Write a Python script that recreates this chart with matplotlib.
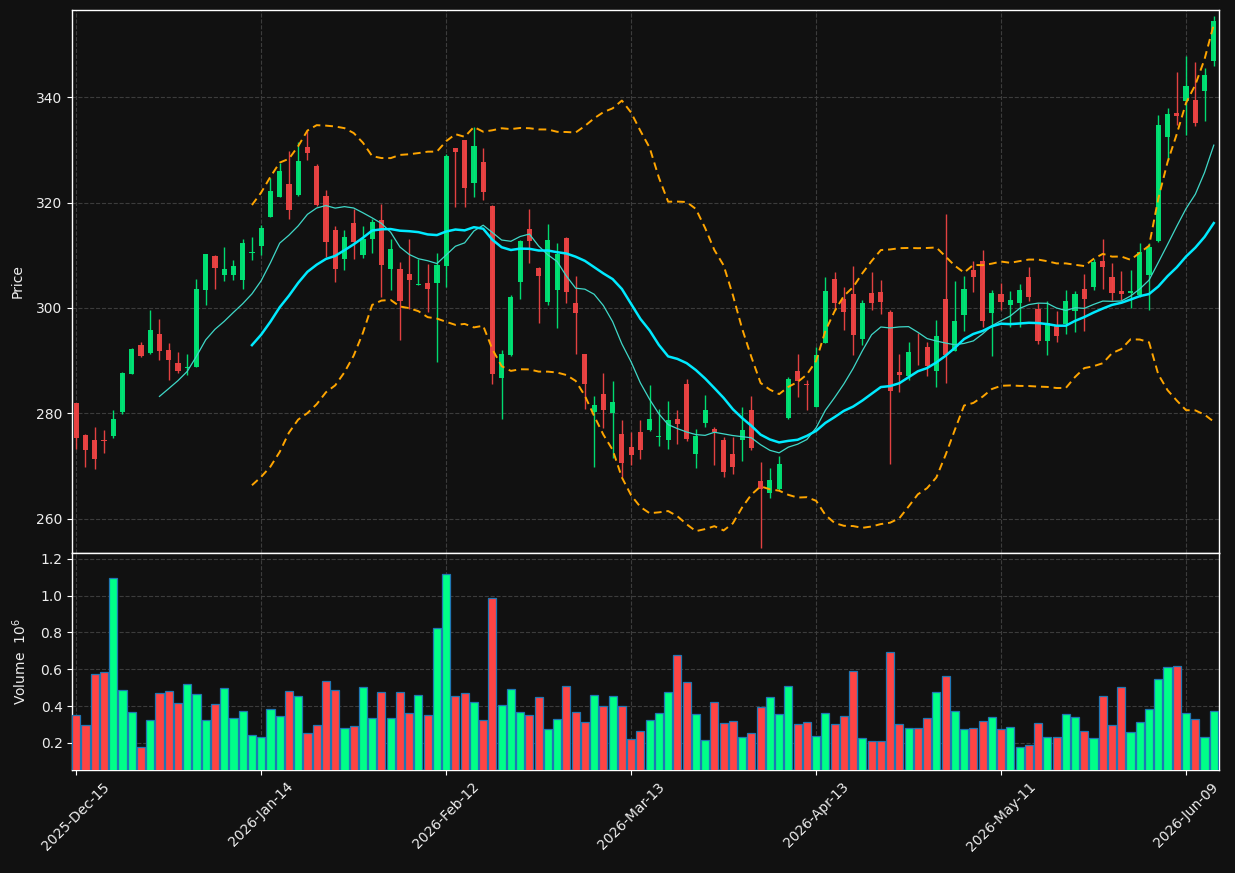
import numpy as np
import pandas as pd
import matplotlib
matplotlib.use('Agg')
import matplotlib.pyplot as plt

# ---------------- data ----------------
start_date = '2025-12-15'
holidays = ['2025-12-25', '2026-01-01', '2026-01-19', '2026-02-16', '2026-04-03', '2026-05-25']

opens = [281.9, 275.9, 274.9, 275.0, 275.7, 280.3, 287.5, 293.0, 291.5, 295.0,
         292.0, 289.5, 288.6, 288.8, 303.4, 309.9, 306.25, 306.25, 305.3, 310.5,
         311.8, 317.3, 321.1, 323.5, 321.4, 330.6, 327.0, 321.25, 314.8, 309.35,
         316.1, 310.1, 313.15, 316.8, 307.45, 307.4, 306.4, 304.35, 304.7, 304.7,
         308.0, 330.3, 331.9, 323.8, 327.7, 319.35, 286.75, 291.05, 305.0, 315.0,
         307.6, 301.2, 303.4, 313.3, 300.9, 291.2, 280.3, 283.65, 280.1, 276.05,
         273.55, 276.5, 276.8, 275.45, 274.9, 278.9, 285.55, 272.25, 278.2, 277.1,
         274.9, 272.25, 274.9, 280.6, 267.05, 264.9, 265.6, 279.15, 288.0, 285.45,
         281.2, 293.4, 305.6, 301.7, 302.6, 294.15, 302.8, 303.0, 299.2, 287.85,
         287.05, 292.65, 292.6, 288.0, 301.7, 291.9, 298.65, 307.2, 308.9, 299.1,
         302.65, 300.55, 300.9, 305.8, 299.8, 293.8, 296.5, 296.95, 299.35, 303.6,
         304.0, 308.85, 305.8, 303.15, 302.9, 302.5, 306.3, 312.65, 332.5, 337.0,
         339.35, 339.45, 341.15, 346.95]
highs = [282.0, 276.0, 277.4, 276.9, 280.6, 287.8, 292.4, 293.6, 299.6, 298.0,
         293.3, 291.7, 291.2, 305.6, 310.3, 310.0, 311.5, 309.2, 313.2, 313.4,
         315.8, 324.6, 327.5, 329.9, 331.6, 333.8, 327.3, 322.4, 315.6, 314.9,
         318.9, 315.6, 317.0, 319.7, 313.1, 308.8, 313.2, 309.4, 308.3, 310.5,
         329.2, 330.4, 332.0, 334.4, 330.3, 319.55, 292.1, 302.45, 312.9, 318.9,
         307.7, 315.9, 312.3, 313.4, 306.1, 291.3, 283.3, 287.6, 286.2, 278.8,
         276.5, 278.8, 285.3, 280.9, 282.3, 280.7, 286.6, 277.1, 283.4, 277.3,
         275.5, 275.4, 281.1, 283.3, 270.7, 269.7, 271.9, 286.9, 291.2, 286.3,
         292.5, 305.8, 306.8, 303.9, 308.0, 301.5, 306.8, 305.4, 299.7, 291.2,
         293.5, 295.2, 293.5, 297.7, 317.8, 305.1, 306.1, 308.9, 311.0, 303.4,
         304.7, 303.2, 304.5, 307.7, 300.9, 301.25, 299.5, 303.5, 303.3, 306.4,
         309.35, 313.1, 308.5, 307.1, 307.3, 312.3, 312.3, 336.7, 338.0, 344.9,
         347.9, 346.65, 345.6, 355.4]
lows = [273.3, 269.8, 269.5, 272.4, 275.35, 279.8, 287.4, 290.7, 291.2, 290.1,
        286.3, 287.6, 287.3, 288.7, 300.5, 303.7, 305.2, 305.4, 303.7, 309.2,
        310.0, 317.2, 321.0, 317.0, 321.3, 328.2, 319.4, 309.7, 304.9, 307.3,
        309.4, 309.5, 310.5, 302.1, 303.5, 294.0, 299.9, 304.3, 299.3, 289.8,
        304.0, 319.2, 319.2, 321.1, 320.5, 285.5, 279.0, 290.9, 301.8, 308.6,
        297.1, 300.55, 296.2, 300.9, 291.2, 280.9, 269.8, 277.25, 271.6, 267.9,
        270.2, 271.4, 276.7, 273.8, 273.3, 274.1, 274.8, 269.7, 277.4, 270.2,
        267.9, 268.45, 271.0, 273.0, 254.35, 264.0, 265.5, 279.0, 283.1, 280.6,
        281.1, 293.3, 299.6, 295.9, 291.1, 292.95, 299.6, 298.8, 270.3, 284.0,
        286.3, 289.15, 287.1, 284.9, 285.8, 291.8, 295.7, 303.1, 296.3, 290.9,
        299.6, 296.4, 296.3, 301.4, 293.1, 291.1, 293.5, 295.0, 295.4, 295.7,
        303.5, 303.65, 301.6, 301.6, 300.0, 302.1, 299.7, 312.5, 328.15, 334.8,
        332.9, 334.5, 335.45, 345.9]
closes = [275.35, 273.0, 271.3, 274.8, 279.0, 287.6, 292.3, 290.9, 295.9, 291.9,
          290.2, 288.1, 288.8, 303.6, 310.2, 307.6, 307.4, 308.0, 312.3, 310.7,
          315.2, 322.2, 326.0, 318.7, 327.9, 329.5, 319.5, 312.6, 307.45, 313.5,
          312.6, 313.1, 316.3, 308.2, 311.2, 301.4, 305.4, 304.45, 303.65, 308.15,
          328.85, 329.7, 322.8, 330.75, 322.1, 287.45, 291.2, 302.1, 312.7, 312.8,
          306.1, 312.9, 310.2, 303.1, 299.1, 285.55, 281.55, 280.6, 282.1, 270.5,
          272.0, 273.0, 278.9, 275.6, 278.7, 277.95, 275.1, 275.7, 280.6, 276.4,
          268.9, 269.85, 276.8, 273.45, 265.55, 267.3, 270.35, 286.5, 286.2, 285.3,
          291.05, 303.2, 301.0, 299.3, 294.9, 300.9, 300.9, 301.2, 284.3, 287.3,
          291.6, 292.5, 289.0, 294.7, 291.05, 297.5, 303.6, 305.9, 297.6, 302.8,
          301.2, 301.5, 303.35, 302.0, 293.8, 297.1, 294.7, 301.25, 302.65, 301.75,
          308.7, 307.85, 302.85, 302.65, 303.3, 310.55, 311.5, 334.7, 336.8, 336.5,
          342.1, 335.1, 344.2, 354.6]
volumes = [351000, 297000, 573000, 584000, 1097000, 486000, 368000, 178000, 324000, 470000,
           481000, 416000, 519000, 465000, 324000, 411000, 497000, 335000, 373000, 243000,
           232000, 384000, 346000, 481000, 454000, 256000, 297000, 535000, 486000, 281000,
           292000, 503000, 335000, 476000, 335000, 476000, 362000, 459000, 351000, 822000,
           1119000, 454000, 470000, 422000, 324000, 989000, 405000, 492000, 368000, 351000,
           449000, 276000, 330000, 508000, 368000, 314000, 459000, 400000, 454000, 400000,
           222000, 265000, 324000, 362000, 476000, 676000, 530000, 357000, 216000, 422000,
           308000, 319000, 232000, 254000, 395000, 449000, 357000, 508000, 303000, 314000,
           238000, 362000, 303000, 346000, 589000, 227000, 211000, 211000, 692000, 303000,
           281000, 281000, 335000, 476000, 562000, 373000, 276000, 281000, 319000, 341000,
           276000, 286000, 178000, 189000, 308000, 232000, 232000, 357000, 341000, 265000,
           227000, 454000, 297000, 503000, 259000, 314000, 384000, 546000, 611000, 616000,
           362000, 330000, 232000, 373000]

mav_short = 10
mav_long = 20
tick_every = 20

# ---------------- derived ----------------
n = len(closes)
dates = pd.date_range(start_date, periods=n,
                      freq=pd.offsets.CustomBusinessDay(holidays=holidays))
o = np.array(opens); h = np.array(highs); l = np.array(lows); c = np.array(closes)
v = np.array(volumes) / 1e6
x = np.arange(n)
cs = pd.Series(c)
ma_s = cs.rolling(mav_short).mean()
ma_l = cs.rolling(mav_long).mean()
sd = cs.rolling(mav_long).std(ddof=0)
upper = ma_l + 2 * sd
lower = ma_l - 2 * sd

BG = '#111111'
TXT = '#eeeeee'
up_c, dn_c = '#00e676', '#ef4444'
vup_c, vdn_c = '#00ff88', '#ff4444'
up = c >= o

fig = plt.figure(figsize=(12.35, 8.73), dpi=100, facecolor=BG)
ax = fig.add_axes([0.0585, 0.3671, 0.9283, 0.6214], facecolor=BG)
axv = fig.add_axes([0.0585, 0.118, 0.9283, 0.2486], facecolor=BG, sharex=ax)

for a in (ax, axv):
    a.grid(True, color='#3c3c3c', linestyle='--', linewidth=0.8)
    a.set_axisbelow(True)
    for s in a.spines.values():
        s.set_color('white')
        s.set_linewidth(1.0)
    a.tick_params(colors=TXT, labelsize=10, color='white')

# candles
ccol = np.where(up, up_c, dn_c)
ax.vlines(x, l, h, colors=ccol, linewidth=1.0, alpha=0.95, zorder=2)
ax.bar(x, np.maximum(np.abs(c - o), 0.18), bottom=np.minimum(o, c), width=0.56,
       color=ccol, linewidth=0, alpha=0.95, zorder=3)

# moving averages and bands
ax.plot(x, ma_s, color='#3fd8c8', linewidth=0.9, zorder=4)
ax.plot(x, ma_l, color='#00eaff', linewidth=1.8, zorder=4)
ax.plot(x, upper, color='#ffa500', linestyle=(0, (4, 2.5)), linewidth=1.4, zorder=4)
ax.plot(x, lower, color='#ffa500', linestyle=(0, (4, 2.5)), linewidth=1.4, zorder=4)

ax.set_ylim(253.55, 356.6)
ax.set_yticks([260, 280, 300, 320, 340])
ax.set_ylabel('Price', color=TXT, fontsize=10, labelpad=8)
plt.setp(ax.get_xticklabels(), visible=False)
ax.tick_params(axis='x', length=0)

# volume
vcol = np.where(up, vup_c, vdn_c)
axv.bar(x, v, width=0.88, color=vcol, edgecolor='#1f77b4', linewidth=0.9, zorder=3)
axv.set_ylim(0.3 * v.min(), 1.1 * v.max())
axv.set_yticks([0.2, 0.4, 0.6, 0.8, 1.0, 1.2])
axv.set_yticklabels(['0.2', '0.4', '0.6', '0.8', '1.0', '1.2'])
axv.set_ylabel('Volume  $10^{6}$', color=TXT, fontsize=10, labelpad=8)

ticks = list(range(0, n, tick_every))
axv.set_xticks(ticks)
axv.set_xticklabels([dates[i].strftime('%Y-%b-%d') for i in ticks], rotation=45)
axv.set_xlim(-0.43, n - 1 + 0.53)

fig.savefig('out.png', dpi=100, facecolor=BG)
